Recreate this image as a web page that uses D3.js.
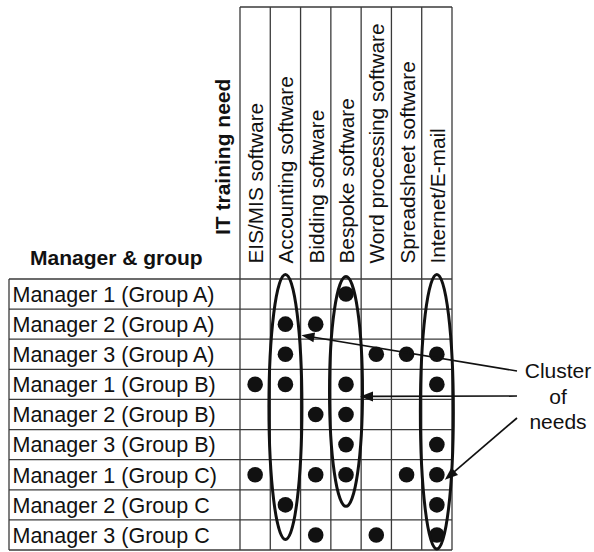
<!DOCTYPE html>
<html><head><meta charset="utf-8">
<script src="https://cdn.jsdelivr.net/npm/d3@7"></script>
<style>body{margin:0;background:#fff}svg{display:block}</style>
</head><body>
<svg id="c" width="594" height="552"></svg>
<script>
const managers = [
  "Manager 1 (Group A)", "Manager 2 (Group A)", "Manager 3 (Group A)",
  "Manager 1 (Group B)", "Manager 2 (Group B)", "Manager 3 (Group B)",
  "Manager 1 (Group C)", "Manager 2 (Group C", "Manager 3 (Group C"
];
const needs = [
  "EIS/MIS software", "Accounting software", "Bidding software",
  "Bespoke software", "Word processing software", "Spreadsheet software",
  "Internet/E-mail"
];
const needsByManager = [
  ["Bespoke software"],
  ["Accounting software", "Bidding software"],
  ["Accounting software", "Word processing software", "Spreadsheet software", "Internet/E-mail"],
  ["EIS/MIS software", "Accounting software", "Bespoke software", "Internet/E-mail"],
  ["Bidding software", "Bespoke software"],
  ["Bespoke software", "Internet/E-mail"],
  ["EIS/MIS software", "Bidding software", "Bespoke software", "Spreadsheet software", "Internet/E-mail"],
  ["Accounting software", "Internet/E-mail"],
  ["Bidding software", "Word processing software", "Internet/E-mail"]
];
// clusters: need column, first/last row reached (in row units, fractional)
const clusterNeeds = ["Accounting software", "Bespoke software", "Internet/E-mail"];
const clusterTop = [-0.2, -0.13, -0.2];
const clusterBottom = [8.7, 7.6, 9.02];
const annotationLines = ["Cluster", "of", "needs"];

const FONT = "'Liberation Sans', Arial, Helvetica, sans-serif";
const svg = d3.select("#c");

const gridLeft = 9, tableTop = 279, headerTop = 7, gridRight = 452, bottom = 550;
const x = d3.scaleBand().domain(needs).range([240, gridRight]);
const y = d3.scaleBand().domain(managers).range([tableTop, bottom]);
const cx = n => x(n) + x.bandwidth() / 2;
const cy = m => y(m) + y.bandwidth() / 2;
const rowY = i => tableTop + i * y.step();

const lineColor = "#3a3a3a";
const g = svg.append("g");

// horizontal row lines
const hLines = [tableTop].concat(managers.map(m => y(m) + y.bandwidth()));
g.selectAll("line.h").data(hLines).join("line")
  .attr("x1", gridLeft).attr("x2", gridRight)
  .attr("y1", d => d).attr("y2", d => d)
  .attr("stroke", lineColor).attr("stroke-width", 1.3);
// header top line
g.append("line").attr("x1", x.range()[0]).attr("x2", gridRight)
  .attr("y1", headerTop).attr("y2", headerTop)
  .attr("stroke", lineColor).attr("stroke-width", 1.3);
// vertical lines
const vLines = needs.map(n => x(n)).concat([gridRight]);
g.selectAll("line.v").data(vLines).join("line")
  .attr("x1", d => d).attr("x2", d => d)
  .attr("y1", headerTop).attr("y2", bottom)
  .attr("stroke", lineColor).attr("stroke-width", 1.3);
// left border
g.append("line").attr("x1", gridLeft).attr("x2", gridLeft)
  .attr("y1", tableTop).attr("y2", bottom)
  .attr("stroke", lineColor).attr("stroke-width", 1.3);

// row labels
g.selectAll("text.row").data(managers).join("text")
  .attr("x", 12.5).attr("y", d => cy(d) + 7.8)
  .attr("font-family", FONT).attr("font-size", 21.5).attr("fill", "#111")
  .text(d => d);

// column headers
g.selectAll("text.col").data(needs).join("text")
  .attr("transform", d => `translate(${cx(d) + 8},263.5) rotate(-90)`)
  .attr("font-family", FONT).attr("font-size", 20.8).attr("fill", "#111")
  .text(d => d);

// titles
svg.append("text").attr("x", 30).attr("y", 265)
  .attr("font-family", FONT).attr("font-size", 21).attr("font-weight", "bold").attr("fill", "#111")
  .text("Manager & group");
svg.append("text").attr("transform", "translate(230,235) rotate(-90)")
  .attr("font-family", FONT).attr("font-size", 21).attr("font-weight", "bold").attr("fill", "#111")
  .text("IT training need");

// dots
const cells = [];
needsByManager.forEach((arr, i) => arr.forEach(n => cells.push({m: managers[i], n})));
g.selectAll("circle.dot").data(cells).join("circle")
  .attr("cx", d => cx(d.n)).attr("cy", d => cy(d.m)).attr("r", 7.8)
  .attr("fill", "#111");

// cluster ellipses
const clusters = clusterNeeds.map((n, i) => {
  const t = rowY(clusterTop[i]), b = rowY(clusterBottom[i]);
  return {n, cyv: (t + b) / 2, ry: (b - t) / 2 - 1.5};
});
g.selectAll("ellipse").data(clusters).join("ellipse")
  .attr("cx", d => cx(d.n)).attr("cy", d => d.cyv)
  .attr("rx", 16.5).attr("ry", d => d.ry)
  .attr("fill", "none").attr("stroke", "#111").attr("stroke-width", 3);

// annotation text
const annX = 558;
svg.selectAll("text.ann").data(annotationLines).join("text")
  .attr("x", annX).attr("y", (d, i) => 378 + i * 25.5)
  .attr("text-anchor", "middle")
  .attr("font-family", FONT).attr("font-size", 21).attr("fill", "#111")
  .text(d => d);

// arrows from annotation to clusters
const arrows = [
  {x1: 517, y1: 371, x2: cx("Accounting software") + 16, y2: rowY(2) - 4},
  {x1: 517, y1: 396, x2: cx("Bespoke software") + 14, y2: rowY(4) - 3},
  {x1: 517, y1: 418, x2: cx("Internet/E-mail") + 8, y2: cy(managers[6]) + 5}
];
const headLen = 13, headHalf = 5;
const aG = svg.append("g");
aG.selectAll("line").data(arrows).join("line")
  .attr("x1", d => d.x1).attr("y1", d => d.y1)
  .attr("x2", d => {
    const a = Math.atan2(d.y2 - d.y1, d.x2 - d.x1);
    return d.x2 - Math.cos(a) * (headLen - 2);
  })
  .attr("y2", d => {
    const a = Math.atan2(d.y2 - d.y1, d.x2 - d.x1);
    return d.y2 - Math.sin(a) * (headLen - 2);
  })
  .attr("stroke", "#111").attr("stroke-width", 1.7);
aG.selectAll("path").data(arrows).join("path")
  .attr("d", d => {
    const a = Math.atan2(d.y2 - d.y1, d.x2 - d.x1);
    const bx = d.x2 - Math.cos(a) * headLen, by = d.y2 - Math.sin(a) * headLen;
    const px = -Math.sin(a) * headHalf, py = Math.cos(a) * headHalf;
    return `M${d.x2},${d.y2}L${bx + px},${by + py}L${bx - px},${by - py}Z`;
  })
  .attr("fill", "#111");
</script>
</body></html>
